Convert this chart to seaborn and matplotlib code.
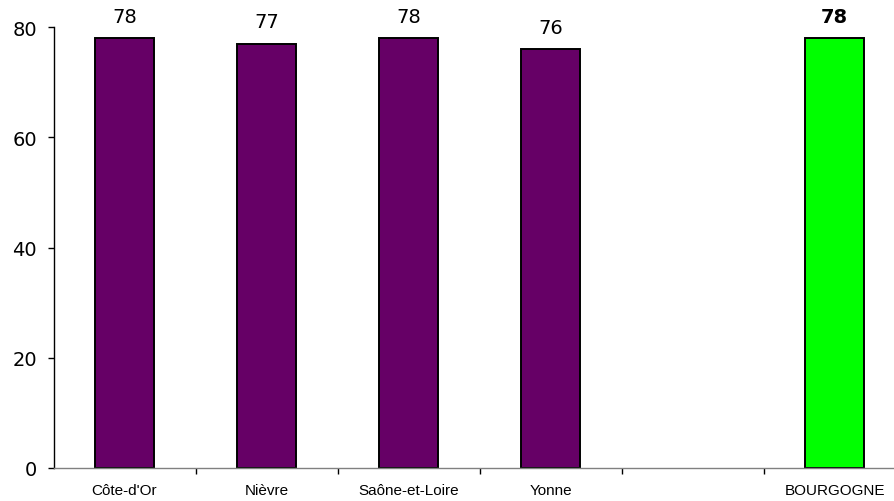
import matplotlib
matplotlib.use("Agg")
import matplotlib.pyplot as plt
import seaborn as sns
import numpy as np
import pandas as pd

# Data
departements = ["Côte-d'Or", "Nièvre", "Saône-et-Loire", "Yonne", " ", "BOURGOGNE"]
valeurs = [78, 77, 78, 76, np.nan, 78]
groupes = ["dep", "dep", "dep", "dep", "dep", "region"]

couleurs = {"dep": "#660066", "region": "#00FF00"}

df = pd.DataFrame({"departement": departements, "valeur": valeurs, "groupe": groupes})

sns.set_style("white")
plt.rcParams['font.family'] = ['DejaVu Sans']
plt.rcParams['text.color'] = 'black'
plt.rcParams['xtick.color'] = 'black'
plt.rcParams['ytick.color'] = 'black'

fig = plt.figure(figsize=(8.94, 5.02), dpi=100)
ax = fig.add_axes([53.5 / 894, 33 / 502, (894 - 53.5) / 894, 441 / 502])

sns.barplot(data=df, x="departement", y="valeur", hue="groupe", palette=couleurs,
            order=departements, dodge=False, width=0.415, edgecolor="black",
            linewidth=1.4, saturation=1, legend=False, ax=ax)

# Value labels above bars
for i, v in enumerate(valeurs):
    if np.isnan(v):
        continue
    ax.annotate(f"{int(v)}", xy=(i, v), xytext=(0, 9), textcoords="offset points",
                ha="center", va="bottom", fontsize=14, color="black",
                fontweight="bold" if groupes[i] == "region" else "normal")

ax.set_ylim(0, 80)
ax.set_xlim(-0.5, (894 - 53.5) / 142 - 0.5)
ax.set_yticks([0, 20, 40, 60, 80])
ax.tick_params(axis="y", labelsize=14, length=4, width=1, direction="out", pad=8, left=True)

# category labels centered, tick marks between categories
ax.set_xticks(range(len(departements)))
ax.set_xticklabels(departements, fontsize=11, family=["Liberation Sans", "DejaVu Sans"])
ax.tick_params(axis="x", length=0, pad=11)
ax.set_xticks(np.arange(0.5, len(departements) - 1, 1.0), minor=True)
ax.tick_params(axis="x", which="minor", length=4, width=1, direction="out", bottom=True)

ax.set_xlabel("")
ax.set_ylabel("")
for s in ["top", "right"]:
    ax.spines[s].set_visible(False)
ax.spines["left"].set_color("black")
ax.spines["bottom"].set_color("#808080")
ax.spines["left"].set_linewidth(1)
ax.spines["bottom"].set_linewidth(1)
ax.grid(False)

fig.savefig("out.png", dpi=100)
